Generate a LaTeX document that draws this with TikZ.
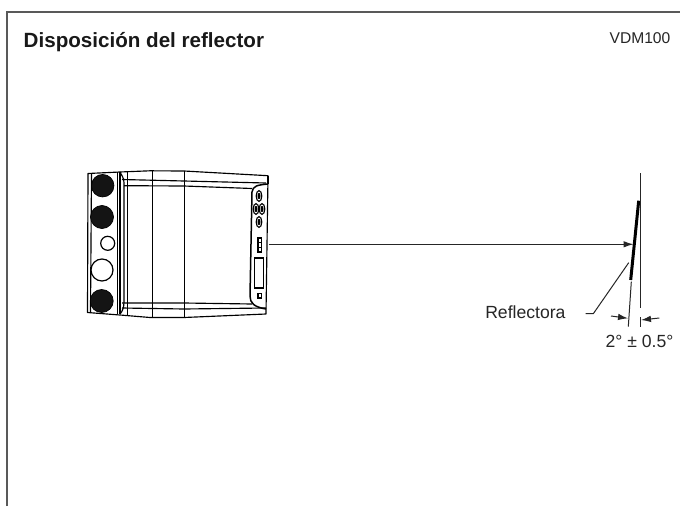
\documentclass[tikz,border=0pt]{standalone}
\usepackage{fontspec}
\setmainfont{Liberation Sans}
\usetikzlibrary{arrows.meta}
\tikzset{
  thin line/.style={draw=black!85,line width=1pt},
  dev/.style={draw=black,line width=1.15pt},
  devthin/.style={draw=black,line width=0.8pt},
  darkknob/.style={draw=black,line width=0.7pt,fill=black!92},
  ring/.style={draw=black,line width=1.2pt,fill=white},
  tip/.style={-{Latex[length=10pt,width=6.5pt]}},
  label/.style={inner sep=0pt,text=black!85,font=\fontsize{17.6}{20}\selectfont}
}
\begin{document}
\begin{tikzpicture}[x=1pt,y=-1pt]
\useasboundingbox (0,0) rectangle (680,506);
\fill[white] (0,0) rectangle (680,506);
\draw[draw=black!65,line width=1.7pt] (6.9,506) -- (6.9,11.7) -- (680,11.7);
\node[anchor=base west,inner sep=0pt,text=black!90,font=\fontsize{20.6}{24}\selectfont\bfseries] (title) at (23.5,47.5) {Disposición del reflector};
\node[anchor=east,inner sep=0pt,text=black!85,font=\fontsize{15.6}{18}\selectfont] (model) at (670.5,38.3) {VDM100};
% device body
\draw[dev,line join=round] (88,173.5) -- (120,172) -- (150,170.8) -- (184,171) -- (268,175.7) -- (266,314) -- (184,317.5) -- (150,317.5) -- (120,315) -- (87.5,312.5) -- cycle;
\draw[dev] (91.5,173.5) -- (90.5,312);
\draw[dev] (120,172) -- (120,314);
\draw[devthin] (117.5,172) -- (117.5,314);
\draw[dev] (120,172) .. controls (122,176) and (124,178) .. (124,183) -- (124,302) .. controls (124,308) and (122,312) .. (120,314);
\draw[devthin] (127.5,172) -- (127.5,315);
\draw[devthin] (152.3,171) -- (152.3,317.5);
\draw[devthin] (184,171) -- (184,317.5);
% horizontal bands
\draw[dev] (122,179.5) -- (184,181) -- (266,183);
\draw[dev] (124,185.7) -- (184,186) -- (252,188.5);
\draw[dev] (122,303) -- (184,303) -- (252,304);
\draw[dev] (122,308) -- (184,309) -- (266,308);
% right panel
\draw[dev,line width=1.5pt] (268,184) .. controls (257,185) and (253,186) .. (252,192) -- (250,296) .. controls (250,303) and (254,307) .. (266,309);
\draw[dev] (268,176) -- (268,184);
% knobs
\node[darkknob,circle,minimum size=22.5pt,inner sep=0pt] (k1) at (102.7,185.7) {};
\node[darkknob,circle,minimum size=23pt,inner sep=0pt] (k2) at (102,217) {};
\node[ring,circle,minimum size=14pt,inner sep=0pt] (k3) at (107.7,243.3) {};
\node[ring,circle,minimum size=22pt,inner sep=0pt] (k4) at (102,270) {};
\node[darkknob,circle,minimum size=23pt,inner sep=0pt] (k5) at (101.7,301) {};
% panel controls
\foreach \cx/\cy in {259/196,256/209,262/209,259/222}{
  \draw[dev,fill=white] (\cx,\cy) ellipse (2.8pt and 5.4pt);
  \fill[black] (\cx,\cy) ellipse (1.5pt and 3.2pt);
}
\draw[dev] (258,238) rectangle (261.5,252);
\draw[dev] (258,242.7) -- (261.5,242.7) (258,247.3) -- (261.5,247.3);
\draw[dev] (254.5,258) rectangle (263.5,288);
\draw[dev] (258,293.5) rectangle (261.5,298);
% connector
\coordinate (sensor) at (269,244.3);
\coordinate (hit) at (633.5,244.3);
\draw[thin line,tip] (sensor) -- (hit);
% reflector
\draw[draw=black,line width=3pt] (638.7,200.7) -- (630.7,280);
\draw[thin line] (640,173) -- (640,308);
\draw[thin line] (640.7,317) -- (640.7,327);
\draw[thin line] (631.3,281.7) -- (628.3,326.7);
% leader
\node[label,anchor=east] (refl) at (565.7,312.7) {Reflectora};
\draw[thin line] (585.7,313.7) -- (593.3,313.7) -- (628.7,262.7);
% dimension
\draw[thin line,tip] (611,316) -- (628,318.3);
\draw[thin line,tip] (659.3,318) -- (641,320);
\node[label] (dim) at (639.5,341.5) {2° ± 0.5°};
\end{tikzpicture}
\end{document}
